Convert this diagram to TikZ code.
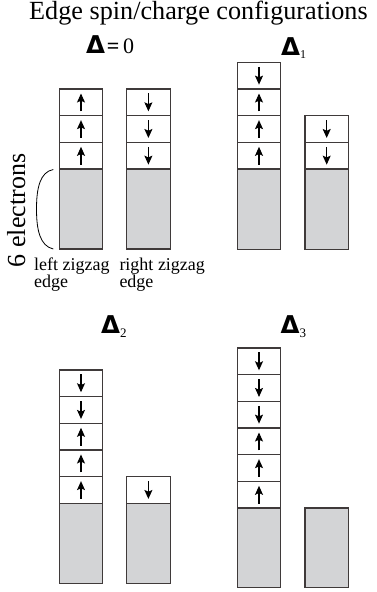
\documentclass[tikz,border=0pt]{standalone}
\usepackage{fontspec}
\setmainfont{Liberation Serif}
\newfontfamily\dfont{DejaVu Sans}
\usetikzlibrary{arrows.meta}
\definecolor{boxline}{HTML}{3F3A3A}
\definecolor{greyfill}{HTML}{D3D4D6}
\tikzset{
  boxst/.style={draw=boxline, line width=1.1pt},
  spin/.style={line width=1.1pt, -{Stealth[length=9pt,width=8pt,inset=1.8pt]}},
  lab/.style={inner sep=0pt, font=\fontsize{18}{18}\selectfont},
  dlab/.style={inner sep=0pt}
}
\newcommand\spincol[4]{%
  \draw[boxst,fill=greyfill] (#1,#2) rectangle (#1+43.4,#3);
  \foreach \s [count=\i] in {#4}{%
    \pgfmathsetmacro\tt{#2-\i*26.67}
    \draw[boxst,fill=white] (#1,\tt) rectangle (#1+43.4,\tt+26.67);
    \ifnum\s=1
      \draw[spin] (#1+21.7,\tt+22.3) -- (#1+21.7,\tt+4.5);
    \else
      \draw[spin] (#1+21.7,\tt+4.5) -- (#1+21.7,\tt+22.3);
    \fi
  }%
}
\newcommand\dsym{{\dfont\bfseries\fontsize{24.5}{25}\selectfont Δ}}
\begin{document}
\begin{tikzpicture}[x=1pt,y=-1pt]
\path[use as bounding box, clip] (0,0) rectangle (376,592);
% title
\node[anchor=base west, inner sep=0pt, font=\fontsize{26.2}{30}\selectfont] (title) at (29,19) {Edge spin/charge configurations};
% panel labels
\node[anchor=base west, dlab] (d0) at (86,53.3) {\dsym\,\fontsize{22}{22}\selectfont\textbf{=}\,0};
\node[anchor=base west, dlab] (d1) at (281,55) {\dsym\raisebox{-3.5pt}{\fontsize{12}{12}\selectfont 1}};
\node[anchor=base west, dlab] (d2) at (101,333) {\dsym\raisebox{-4pt}{\fontsize{13}{13}\selectfont 2}};
\node[anchor=base west, dlab] (d3) at (280.5,333.3) {\dsym\raisebox{-4pt}{\fontsize{13}{13}\selectfont 3}};
% columns
\spincol{59.3}{169}{249}{1,1,1}
\spincol{126.7}{169}{249}{0,0,0}
\spincol{237.3}{169}{249.3}{1,1,1,0}
\spincol{305}{169}{249.3}{0,0}
\spincol{59.3}{503.3}{583.3}{1,1,1,0,0}
\spincol{126.7}{503.3}{583.3}{0}
\spincol{237.3}{508}{587.3}{1,1,1,0,0,0}
\draw[boxst,fill=greyfill] (305,508) rectangle (348.4,587.3);
% brace
\draw[line width=0.8pt] (53.3,169.5) .. controls (40,172) and (36.5,188) .. (36.5,209) .. controls (36.5,230) and (40,246) .. (53.3,249);
\node[rotate=90, anchor=base, inner sep=0pt, font=\fontsize{26}{26}\selectfont] (six) at (25,210.5) {6 electrons};
% edge labels
\node[anchor=base west, lab] (lz1) at (34,270) {left zigzag};
\node[anchor=base west, lab] (lz2) at (34,287.7) {edge};
\node[anchor=base west, lab] (rz1) at (119.3,270) {right zigzag};
\node[anchor=base west, lab] (rz2) at (119.3,287.7) {edge};
\end{tikzpicture}
\end{document}
